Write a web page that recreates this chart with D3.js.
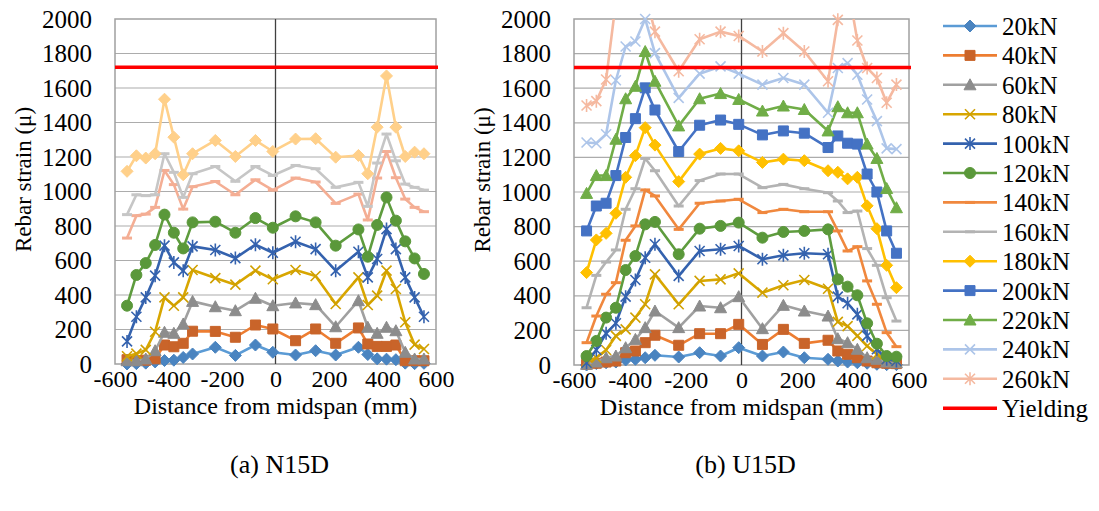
<!DOCTYPE html>
<html>
<head>
<meta charset="utf-8">
<script src="https://cdnjs.cloudflare.com/ajax/libs/d3/7.8.5/d3.min.js"></script>
<style>
body { margin: 0; background: #fff; }
svg text { fill: #000; }
</style>
</head>
<body>
<svg width="1099" height="511"></svg>
<script>
// gauge positions along the bar (mm from midspan), same for both beams
var xPos = [-555, -520, -485, -450, -415, -380, -345, -310, -225, -150, -75, -10, 75, 150, 225, 310, 345, 380, 415, 450, 485, 520, 555];
var xTicks = [-600, -400, -200, 0, 200, 400, 600];
var yTicks = [0, 200, 400, 600, 800, 1000, 1200, 1400, 1600, 1800, 2000];
var loads = ["20kN", "40kN", "60kN", "80kN", "100kN", "120kN", "140kN", "160kN", "180kN", "200kN", "220kN", "240kN", "260kN"];
var yieldStrain = 1720;

// (a) N15D
var n15d20 = [0, 2, 5, 12, 20, 22, 38, 58, 97, 50, 110, 68, 52, 77, 52, 97, 55, 30, 28, 25, 5, 2, 4];
var n15d40 = [25, 20, 22, 30, 110, 100, 120, 190, 189, 155, 226, 203, 135, 203, 120, 209, 116, 102, 102, 110, 19, 19, 19];
var n15d60 = [19, 19, 29, 77, 184, 178, 232, 363, 332, 309, 381, 338, 354, 344, 216, 367, 213, 178, 213, 193, 68, 29, 29];
var n15d80 = [45, 60, 82, 187, 386, 338, 386, 545, 498, 460, 541, 491, 545, 510, 348, 502, 342, 396, 541, 435, 242, 112, 87];
var n15d100 = [131, 274, 386, 512, 686, 589, 541, 682, 661, 614, 692, 645, 709, 666, 541, 651, 502, 609, 782, 666, 502, 386, 274];
var n15d120 = [338, 516, 585, 690, 866, 761, 670, 821, 825, 761, 846, 790, 856, 821, 686, 780, 622, 806, 966, 831, 711, 612, 522];
var n15d140 = [730, 860, 869, 908, 1122, 1040, 898, 1028, 1058, 981, 1068, 1008, 1078, 1055, 931, 985, 835, 1078, 1232, 1080, 956, 908, 883];
var n15d160 = [866, 981, 976, 981, 1219, 1111, 966, 1103, 1145, 1059, 1145, 1093, 1151, 1132, 1024, 1053, 914, 1165, 1333, 1178, 1043, 1024, 1008];
var n15d180 = [1117, 1207, 1194, 1219, 1535, 1315, 1097, 1219, 1296, 1203, 1296, 1232, 1304, 1306, 1199, 1209, 1103, 1373, 1670, 1373, 1203, 1228, 1219];

// (b) U15D
var u15d20 = [0, 8, 13, 17, 29, 33, 42, 56, 46, 71, 52, 100, 52, 75, 42, 33, 23, 17, 13, 10, 4, 2, 2];
var u15d40 = [4, 10, 17, 23, 71, 81, 129, 172, 114, 181, 181, 235, 119, 206, 125, 143, 81, 62, 42, 23, 13, 10, 8];
var u15d60 = [4, 17, 42, 52, 100, 148, 216, 312, 216, 341, 331, 395, 210, 345, 312, 283, 152, 129, 91, 42, 33, 17, 13];
var u15d80 = [17, 42, 87, 168, 206, 274, 351, 524, 351, 486, 495, 530, 418, 461, 491, 441, 249, 225, 168, 110, 62, 33, 23];
var u15d100 = [13, 87, 183, 241, 395, 491, 620, 698, 515, 659, 669, 688, 611, 634, 646, 640, 395, 357, 293, 168, 91, 33, 23];
var u15d120 = [52, 139, 274, 331, 549, 630, 813, 827, 640, 788, 804, 823, 736, 769, 775, 784, 495, 453, 403, 241, 123, 52, 48];
var u15d140 = [129, 283, 409, 476, 721, 804, 1012, 977, 784, 935, 948, 958, 881, 900, 886, 886, 775, 659, 684, 486, 351, 187, 106];
var u15d160 = [331, 518, 595, 665, 900, 1019, 1194, 1123, 919, 1066, 1104, 1104, 1025, 1044, 1019, 996, 948, 881, 890, 673, 576, 389, 254];
var u15d180 = [534, 723, 761, 877, 1085, 1210, 1372, 1271, 1060, 1219, 1252, 1238, 1171, 1190, 1181, 1123, 1114, 1076, 1085, 920, 788, 576, 447];
var u15d200 = [775, 919, 935, 1095, 1315, 1424, 1602, 1474, 1234, 1386, 1416, 1391, 1330, 1353, 1340, 1257, 1324, 1282, 1277, 1104, 1000, 775, 646];
var u15d220 = [992, 1095, 1095, 1305, 1539, 1611, 1812, 1640, 1382, 1539, 1569, 1535, 1468, 1497, 1477, 1353, 1493, 1458, 1458, 1277, 1194, 1020, 909];
var u15d240 = [1286, 1282, 1334, 1646, 1841, 1870, 2000, 1803, 1544, 1684, 1726, 1684, 1621, 1659, 1621, 1458, 1717, 1745, 1678, 1535, 1410, 1252, 1248];
var u15d260 = [1500, 1525, 1650, 2100, 2300, 2400, 2150, 1927, 1698, 1883, 1927, 1902, 1812, 1918, 1812, 1640, 1995, 2200, 1876, 1717, 1659, 1516, 1621];

// styles: line colour, marker colour, marker type per load step
var lineColors = ["#5b9bd5", "#ed7d31", "#a0a0a0", "#d8a600", "#3462ae", "#5e9c3e", "#f0883e", "#b3b3b3", "#ffc000", "#4472c4", "#70ad47", "#adc5e9", "#f5b9a0"];
var markColors = ["#4a84c0", "#c9642a", "#8c8c8c", "#d0a000", "#3462ae", "#5a983a", "#f0883e", "#b3b3b3", "#ffc000", "#4472c4", "#70ad47", "#adc5e9", "#f5b9a0"];
// the left graph has lighter colours for its last three loads
var leftLight = {6: "#f4ae94", 7: "#c6c6c6", 8: "#ffd08a"};
var markers = ["diamond", "square", "triangle", "x", "star", "circle", "dash", "dash", "diamond", "square", "triangle", "x", "star"];

var FONT = "Liberation Serif, DejaVu Serif, Times New Roman, serif";
var svg = d3.select("svg").attr("font-family", FONT);

function markerPath(type) {
	if (type == "diamond") return "M0,-6L6,0L0,6L-6,0Z";
	if (type == "square") return "M-5,-5H5V5H-5Z";
	if (type == "triangle") return "M0,-6L6,5H-6Z";
	if (type == "circle") return "M5.5,0A5.5,5.5 0 1,1 -5.5,0A5.5,5.5 0 1,1 5.5,0Z";
	if (type == "x") return "M-5,-5L5,5M-5,5L5,-5";
	if (type == "star") return "M-5,-5L5,5M-5,5L5,-5M0,-6.5V6.5";
	return "M-5,0H5";
}

function drawMarker(sel, type, color) {
	var open = (type == "x" || type == "star" || type == "dash");
	sel.append("path")
		.attr("d", markerPath(type))
		.attr("fill", open ? "none" : color)
		.attr("stroke", color)
		.attr("stroke-width", type == "dash" ? 3 : (open ? 1.6 : 1));
}

function drawPanel(id, box, seriesList, caption, light) {
	var x = d3.scaleLinear().domain([-600, 600]).range([box.left, box.right]);
	var y = d3.scaleLinear().domain([0, 2000]).range([box.bottom, box.top]);

	var g = svg.append("g");

	//gridlines
	g.selectAll(".grid").data(yTicks.slice(1, -1)).enter().append("line")
		.attr("x1", box.left).attr("x2", box.right)
		.attr("y1", function(d) { return y(d); }).attr("y2", function(d) { return y(d); })
		.attr("stroke", "#acacac").attr("stroke-width", 1.2);

	//plot border
	g.append("rect").attr("x", box.left).attr("y", box.top)
		.attr("width", box.right - box.left).attr("height", box.bottom - box.top)
		.attr("fill", "none").attr("stroke", "#a0a0a0").attr("stroke-width", 1.5);

	//vertical axis sits at x = 0
	g.append("line").attr("x1", x(0)).attr("x2", x(0)).attr("y1", box.top).attr("y2", box.bottom)
		.attr("stroke", "#404040").attr("stroke-width", 1.3);

	//tick labels via d3 axes, without the axis lines (plain hyphen, no thousands comma)
	var fmt = function(d) { return String(d); };
	var ya = g.append("g").attr("transform", "translate(" + (box.left - 16) + ",0)")
		.call(d3.axisLeft(y).tickValues(yTicks).tickFormat(fmt).tickSize(0).tickPadding(7));
	var xa = g.append("g").attr("transform", "translate(0," + (box.bottom + 4) + ")")
		.call(d3.axisBottom(x).tickValues(xTicks).tickFormat(fmt).tickSize(0).tickPadding(2));
	ya.attr("font-family", FONT).attr("font-size", 25);
	xa.attr("font-family", FONT).attr("font-size", 24);
	ya.select(".domain").remove();
	xa.select(".domain").remove();

	//axis titles
	g.append("text").attr("transform", "translate(" + (box.left - 84) + "," + ((box.top + box.bottom) / 2 - 12) + ") rotate(-90)")
		.attr("text-anchor", "middle").attr("font-size", 23).text("Rebar strain (\u03bc)");
	g.append("text").attr("x", (box.left + box.right) / 2).attr("y", box.bottom + 50)
		.attr("text-anchor", "middle").attr("font-size", 24).text("Distance from midspan (mm)");
	g.append("text").attr("x", (box.left + box.right) / 2 + 4).attr("y", 473)
		.attr("text-anchor", "middle").attr("font-size", 26).text(caption);

	//clip everything that goes above 2000
	svg.append("clipPath").attr("id", "clip" + id).append("rect")
		.attr("x", box.left).attr("y", box.top - 7)
		.attr("width", box.right - box.left + 8).attr("height", box.bottom - box.top + 20);
	svg.append("clipPath").attr("id", "clipl" + id).append("rect")
		.attr("x", box.left).attr("y", box.top)
		.attr("width", box.right - box.left).attr("height", box.bottom - box.top + 20);

	var plot = g.append("g");
	var line = d3.line().x(function(d) { return x(d[0]); }).y(function(d) { return y(d[1]); });

	seriesList.forEach(function(vals, i) {
		var pts = xPos.map(function(p, j) { return [p, vals[j]]; });
		var lc = light && leftLight[i] ? leftLight[i] : lineColors[i];
		var mc = light && leftLight[i] ? leftLight[i] : markColors[i];
		var s = plot.append("g");
		s.append("path").datum(pts).attr("d", line)
			.attr("clip-path", "url(#clipl" + id + ")")
			.attr("fill", "none").attr("stroke", lc).attr("stroke-width", 2.6).attr("stroke-linejoin", "round");
		s.append("g").attr("clip-path", "url(#clip" + id + ")")
			.selectAll("g").data(pts.filter(function(d) { return d[1] <= 2050; })).enter().append("g")
			.attr("transform", function(d) { return "translate(" + x(d[0]) + "," + y(d[1]) + ")"; })
			.each(function() { drawMarker(d3.select(this), markers[i], mc); });
	});

	//yield line
	plot.append("line").attr("x1", x(-600)).attr("x2", x(600) + 2)
		.attr("y1", y(yieldStrain)).attr("y2", y(yieldStrain))
		.attr("stroke", "#ff0000").attr("stroke-width", 3.5);
}

drawPanel("a", {left: 115, right: 436, top: 19, bottom: 364},
	[n15d20, n15d40, n15d60, n15d80, n15d100, n15d120, n15d140, n15d160, n15d180], "(a) N15D", true);
drawPanel("b", {left: 574, right: 909, top: 19, bottom: 365},
	[u15d20, u15d40, u15d60, u15d80, u15d100, u15d120, u15d140, u15d160, u15d180, u15d200, u15d220, u15d240, u15d260], "(b) U15D", false);

//legend
var legend = svg.append("g").attr("transform", "translate(943,26)");
var rows = loads.concat(["Yielding"]);
rows.forEach(function(name, i) {
	var r = legend.append("g").attr("transform", "translate(0," + (i * 29.4) + ")");
	var c = i < loads.length ? lineColors[i] : "#ff0000";
	r.append("line").attr("x1", 0).attr("x2", 54).attr("stroke", c).attr("stroke-width", i < loads.length ? 2.6 : 3.5);
	if (i < loads.length) {
		var m = r.append("g").attr("transform", "translate(27,0)");
		drawMarker(m, markers[i], markColors[i]);
	}
	r.append("text").attr("x", 59).attr("y", 9).attr("font-size", 25).text(name);
});
</script>
</body>
</html>
